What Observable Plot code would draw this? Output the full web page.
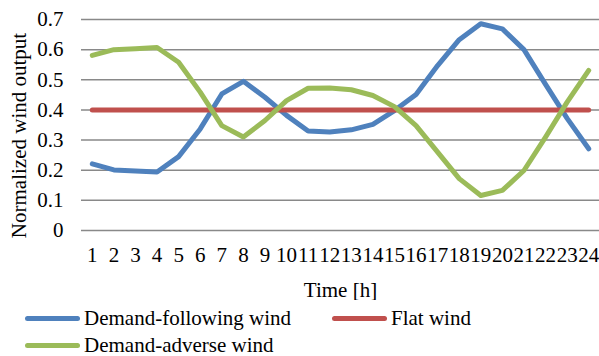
<!DOCTYPE html>
<html>
<head>
<meta charset="utf-8">
<script src="https://cdn.jsdelivr.net/npm/d3@7"></script>
<script src="https://cdn.jsdelivr.net/npm/@observablehq/plot@0.6"></script>
<style>
  html, body { margin: 0; padding: 0; background: #fff; }
  #wrap { position: relative; width: 599px; height: 356px; overflow: hidden; font-size: 21px; color: #000; }
  #legend { position: absolute; left: 0; top: 300px; width: 599px; height: 56px; }
  .item { position: absolute; display: flex; align-items: center; white-space: nowrap; line-height: 1; }
  .sw { width: 55px; height: 5px; border-radius: 3px; margin-right: 4px; }
</style>
</head>
<body>
<div id="wrap">
  <div id="chart"></div>
  <div id="legend"></div>
</div>
<script>
const hours = [1,2,3,4,5,6,7,8,9,10,11,12,13,14,15,16,17,18,19,20,21,22,23,24];
const demandFollowing = [0.221,0.201,0.197,0.194,0.245,0.337,0.453,0.495,0.442,0.382,0.330,0.327,0.334,0.352,0.398,0.451,0.547,0.633,0.686,0.669,0.600,0.485,0.372,0.271];
const flatWind = [0.4,0.4,0.4,0.4,0.4,0.4,0.4,0.4,0.4,0.4,0.4,0.4,0.4,0.4,0.4,0.4,0.4,0.4,0.4,0.4,0.4,0.4,0.4,0.4];
const demandAdverse = [0.581,0.600,0.603,0.607,0.558,0.459,0.348,0.310,0.365,0.431,0.472,0.473,0.467,0.448,0.411,0.348,0.260,0.172,0.116,0.133,0.199,0.310,0.426,0.531];
const seriesNames = ["Demand-following wind", "Flat wind", "Demand-adverse wind"];
const seriesColors = ["#4F81BD", "#C0504D", "#9BBB59"];
const yTicks = [0, 0.1, 0.2, 0.3, 0.4, 0.5, 0.6, 0.7];
const xLabel = "Time [h]";
const yLabel = "Normalized wind output";

const FONT = "Liberation Serif";
document.getElementById("wrap").style.fontFamily = FONT;
const seriesValues = [demandFollowing, flatWind, demandAdverse];
const rows = seriesNames.flatMap((name, s) => hours.map((h, i) => ({series: name, hour: h, value: seriesValues[s][i]})));

const chart = Plot.plot({
  width: 599,
  height: 300,
  marginLeft: 81,
  marginRight: 0,
  marginTop: 19,
  marginBottom: 70,
  style: {fontSize: "21px", color: "#000", background: "#fff"},
  x: {type: "point", domain: hours, padding: 0.5, round: false},
  y: {domain: [0, 0.7]},
  color: {domain: seriesNames, range: seriesColors},
  marks: [
    Plot.ruleY(yTicks, {stroke: "#898989", strokeWidth: 1.5}),
    Plot.axisY(yTicks, {tickSize: 0, tickPadding: 18, label: null, tickFormat: d => d === 0 ? "0" : d.toFixed(1), fontSize: 21}),
    Plot.axisX(hours, {tickSize: 0, tickPadding: 17, label: null, fontSize: 21}),
    Plot.text([xLabel], {frameAnchor: "bottom", dy: 66, fontSize: 21, fill: "#000"}),
    Plot.text([yLabel], {frameAnchor: "left", textAnchor: "middle", rotate: -90, dx: -62.5, dy: 10.5, fontSize: 21, fill: "#000"}),
    Plot.line(rows, {x: "hour", y: "value", z: "series", stroke: "series", strokeWidth: 5, strokeLinejoin: "round", strokeLinecap: "round"})
  ]
});
chart.style.fontFamily = FONT;
chart.setAttribute("font-family", FONT);
chart.querySelectorAll("text, g").forEach(el => { if (el.hasAttribute("font-family")) el.setAttribute("font-family", FONT); });
document.getElementById("chart").appendChild(chart);

const legendPos = [
  {left: 25, top: 18},
  {left: 332, top: 18},
  {left: 25, top: 45}
];
const legend = document.getElementById("legend");
seriesNames.forEach((name, i) => {
  const it = document.createElement("div");
  it.className = "item";
  it.style.left = legendPos[i].left + "px";
  it.style.top = (legendPos[i].top - 10) + "px";
  it.style.height = "20px";
  it.style.fontFamily = FONT;
  const sw = document.createElement("div");
  sw.className = "sw";
  sw.style.background = seriesColors[i];
  const tx = document.createElement("span");
  tx.textContent = name;
  it.appendChild(sw);
  it.appendChild(tx);
  legend.appendChild(it);
});
</script>
</body>
</html>
